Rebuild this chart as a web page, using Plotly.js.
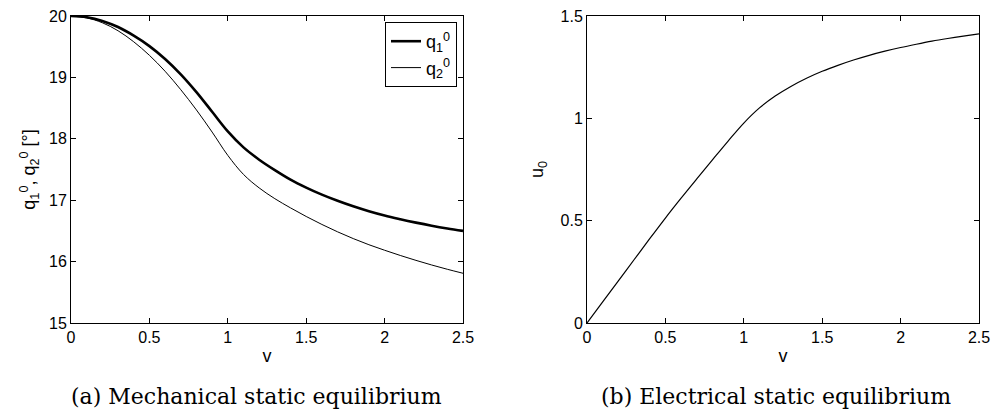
<!DOCTYPE html>
<html>
<head>
<meta charset="utf-8">
<script src="https://cdn.plot.ly/plotly-3.0.1.min.js"></script>
<style>html,body{margin:0;padding:0;background:#fff;}#chart{width:992px;height:412px;}</style>
</head>
<body>
<div id="chart"></div>
<script>
// Shared abscissa v
const v = [0,0.1,0.2,0.3,0.4,0.5,0.6,0.7,0.8,0.9,1.0,1.1,1.2,1.3,1.4,1.5,1.6,1.7,1.8,1.9,2.0,2.1,2.2,2.3,2.4,2.5];
// (a) Mechanical static equilibrium
const q1 = [20.00,19.98,19.92,19.82,19.68,19.51,19.30,19.05,18.76,18.44,18.12,17.86,17.66,17.49,17.335,17.205,17.09,16.99,16.90,16.82,16.75,16.69,16.635,16.585,16.54,16.50];
const q2 = [20.00,19.97,19.89,19.76,19.58,19.36,19.10,18.80,18.47,18.11,17.73,17.42,17.20,17.025,16.875,16.735,16.605,16.485,16.375,16.275,16.185,16.10,16.02,15.945,15.875,15.81];
// (b) Electrical static equilibrium
const u0 = [0,0.103,0.206,0.309,0.412,0.513,0.610,0.704,0.797,0.889,0.977,1.051,1.109,1.156,1.196,1.230,1.259,1.285,1.308,1.328,1.346,1.362,1.377,1.390,1.402,1.413];

const xTicks = [0,0.5,1,1.5,2,2.5];
const xTickText = ['0','0.5','1','1.5','2','2.5'];
const yTicksA = [15,16,17,18,19,20];
const yTicksB = [0,0.5,1,1.5];
const yTickTextB = ['0','0.5','1','1.5'];
const captions = ['(a) Mechanical static equilibrium','(b) Electrical static equilibrium'];

const sans = "'Liberation Sans Narrow', 'Liberation Sans', Arial, sans-serif";
const tickFont = {family:sans, size:16, color:'#000'};
const titleFont = {family:sans, size:18, color:'#000'};
function axisBase(extra){
  return Object.assign({
    showgrid:false, zeroline:false, showline:true, linecolor:'#000', linewidth:1,
    mirror:'ticks', ticks:'inside', ticklen:5, tickcolor:'#000', tickwidth:1,
    tickfont:tickFont, fixedrange:true
  }, extra);
}

const traces = [
  {x:v, y:q1, type:'scatter', mode:'lines', name:'q<sub>1</sub><sup>0</sup>', line:{color:'#000', width:2.6, shape:'spline'}, xaxis:'x', yaxis:'y'},
  {x:v, y:q2, type:'scatter', mode:'lines', name:'q<sub>2</sub><sup>0</sup>', line:{color:'#000', width:1, shape:'spline'}, xaxis:'x', yaxis:'y'},
  {x:v, y:u0, type:'scatter', mode:'lines', name:'u0', showlegend:false, line:{color:'#000', width:1.2, shape:'spline'}, xaxis:'x2', yaxis:'y2'}
];

const H = 412, W = 992;
const yDom = [(H-323)/H, (H-16)/H];
const layout = {
  width:W, height:H, margin:{l:0,r:0,t:0,b:0},
  paper_bgcolor:'#fff', plot_bgcolor:'#fff',
  showlegend:true,
  legend:{x:457/W, y:(H-22)/H, xanchor:'right', yanchor:'top', bordercolor:'#000', borderwidth:1, bgcolor:'#fff',
          font:{family:sans, size:18, color:'#000'}, tracegroupgap:0, itemwidth:30},
  xaxis: axisBase({domain:[71/W, 463/W], range:[0,2.5], tickvals:xTicks, ticktext:xTickText, anchor:'y',
    title:{text:'v', font:titleFont, standoff:4}}),
  yaxis: axisBase({domain:yDom, range:[15,20], tickvals:yTicksA, anchor:'x',
    title:{text:'q<sub>1</sub><sup>0</sup>, q<sub>2</sub><sup>0</sup> [°]', font:titleFont, standoff:8}}),
  xaxis2: axisBase({domain:[587/W, 979/W], range:[0,2.5], tickvals:xTicks, ticktext:xTickText, anchor:'y2',
    title:{text:'v', font:titleFont, standoff:4}}),
  yaxis2: axisBase({domain:yDom, range:[0,1.5], tickvals:yTicksB, ticktext:yTickTextB, anchor:'x2',
    title:{text:'u<sub>0</sub>', font:titleFont, standoff:12}}),
  annotations:[
    {text:captions[0], xref:'paper', yref:'paper', x:(65+448)/2/W, y:0.002, xanchor:'center', yanchor:'bottom', showarrow:false,
     font:{family:"'DejaVu Serif', serif", size:22, color:'#000'}},
    {text:captions[1], xref:'paper', yref:'paper', x:776/W, y:0.002, xanchor:'center', yanchor:'bottom', showarrow:false,
     font:{family:"'DejaVu Serif', serif", size:22, color:'#000'}}
  ]
};

Plotly.newPlot('chart', traces, layout, {staticPlot:true, displayModeBar:false});
</script>
</body>
</html>
